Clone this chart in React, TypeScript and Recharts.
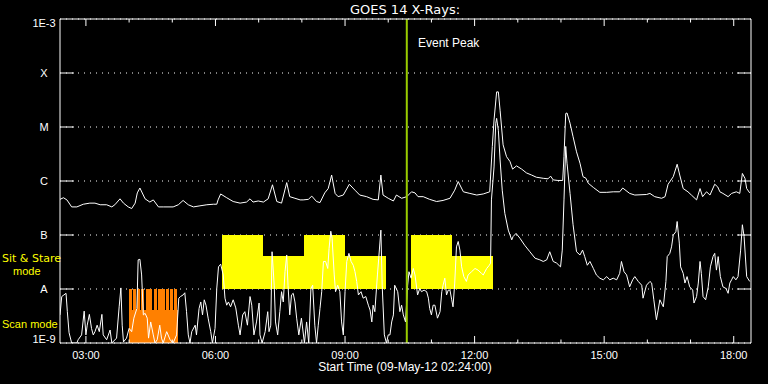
import React from 'react';
import { LineChart, Line, XAxis, YAxis, CartesianGrid, ReferenceArea, ReferenceLine } from 'recharts';

// ---- axis definitions (hours since 00:00 on 09-May-12, log10 flux W/m^2) ----
const timeDomain: [number, number] = [2.4, 18.4];
const fluxDomain: [number, number] = [-9, -3];
const yTickValues = [-9, -8, -7, -6, -5, -4, -3];
const yTickLabels = ['1E-9', 'A', 'B', 'C', 'M', 'X', '1E-3'];
const hourTicks = [3, 4, 5, 6, 7, 8, 9, 10, 11, 12, 13, 14, 15, 16, 17, 18];
const majorHours = [3, 6, 9, 12, 15, 18];
const majorLabels = ['03:00', '06:00', '09:00', '12:00', '15:00', '18:00'];

const eventPeakHour = 10.43;

// ---- instrument mode intervals ----
// Sit & Stare: continuous runs (lower level) with taller sub-intervals
const sitStareRunStart = [6.15, 10.53];
const sitStareRunEnd = [9.96, 12.43];
const sitStareRunTop = -7.38;
const sitStarePeakStart = [6.15, 8.06, 10.53];
const sitStarePeakEnd = [7.09, 9.01, 11.47];
const sitStarePeakTop = -7;
const sitStareBottom = -8;

// Scan mode: solid base block plus individual scans
const scanStripeStart = [4.0, 4.09, 4.19, 4.28, 4.38, 4.47, 4.57, 4.66, 4.75, 4.85, 4.94, 5.04];
const scanStripeEnd = [4.07, 4.16, 4.26, 4.35, 4.45, 4.54, 4.64, 4.73, 4.82, 4.92, 5.01, 5.11];
const scanStripeTop = -8;
const scanBlockStart = 4.0;
const scanBlockEnd = 5.13;
const scanBlockTop = -8.39;

// ---- GOES 14 long channel (1-8 A), [hour, log10 flux] ----
const longChannel: [number, number][] = [
  [2.40,-6.34],[2.48,-6.31],[2.56,-6.35],[2.67,-6.48],[2.79,-6.48],[2.94,-6.43],[3.09,-6.41],[3.21,-6.41],
  [3.33,-6.44],[3.48,-6.44],[3.60,-6.48],[3.67,-6.44],[3.79,-6.33],[3.87,-6.41],[3.98,-6.48],[4.06,-6.51],
  [4.14,-6.41],[4.19,-6.22],[4.25,-6.13],[4.37,-6.33],[4.48,-6.39],[4.56,-6.35],[4.68,-6.48],[4.79,-6.48],
  [5.02,-6.48],[5.14,-6.44],[5.25,-6.36],[5.37,-6.44],[5.49,-6.48],[5.64,-6.46],[5.80,-6.44],[5.95,-6.43],
  [6.03,-6.43],[6.06,-6.35],[6.12,-6.24],[6.26,-6.31],[6.41,-6.38],[6.57,-6.41],[6.72,-6.39],[6.80,-6.33],
  [6.87,-6.39],[6.99,-6.37],[7.11,-6.39],[7.22,-6.33],[7.32,-6.07],[7.42,-6.38],[7.53,-6.41],[7.65,-6.03],
  [7.72,-6.29],[7.84,-6.32],[7.96,-6.35],[8.03,-6.35],[8.15,-6.34],[8.23,-6.28],[8.34,-6.38],[8.42,-6.40],
  [8.53,-6.22],[8.61,-6.14],[8.69,-5.89],[8.77,-6.23],[8.84,-6.29],[8.96,-6.26],[9.10,-6.06],[9.23,-6.17],
  [9.34,-6.26],[9.50,-6.29],[9.65,-6.34],[9.77,-6.35],[9.83,-5.89],[9.88,-6.26],[10.00,-6.32],[10.12,-6.37],
  [10.19,-6.26],[10.31,-6.32],[10.43,-6.29],[10.54,-6.20],[10.62,-6.22],[10.69,-6.29],[10.81,-6.29],[10.96,-6.34],
  [11.12,-6.38],[11.27,-6.36],[11.43,-6.32],[11.54,-6.17],[11.62,-6.01],[11.74,-6.20],[11.89,-6.23],[12.05,-6.26],
  [12.20,-6.24],[12.35,-6.20],[12.41,-5.36],[12.45,-4.87],[12.51,-4.35],[12.55,-4.35],[12.59,-4.69],[12.66,-5.33],
  [12.74,-5.55],[12.82,-5.64],[12.88,-5.78],[12.97,-5.72],[13.09,-5.78],[13.20,-5.85],[13.32,-5.89],[13.43,-5.93],
  [13.59,-5.95],[13.70,-5.96],[13.76,-5.91],[13.82,-5.98],[13.93,-5.99],[14.04,-5.99],[14.07,-5.55],[14.11,-4.75],
  [14.14,-4.74],[14.21,-4.93],[14.28,-5.18],[14.36,-5.46],[14.44,-5.67],[14.51,-5.92],[14.58,-5.95],[14.63,-6.04],
  [14.75,-6.12],[14.90,-6.21],[15.06,-6.21],[15.21,-6.20],[15.36,-6.20],[15.43,-6.13],[15.59,-6.23],[15.71,-6.26],
  [15.98,-6.25],[16.06,-6.23],[16.17,-6.29],[16.33,-6.32],[16.41,-6.29],[16.48,-6.06],[16.60,-5.92],[16.69,-5.69],
  [16.75,-5.89],[16.83,-6.14],[16.94,-6.20],[17.02,-6.26],[17.14,-6.35],[17.22,-6.14],[17.28,-6.29],[17.37,-6.20],
  [17.45,-6.26],[17.56,-6.06],[17.63,-6.11],[17.68,-6.20],[17.75,-6.23],[17.87,-6.29],[17.95,-6.23],[18.06,-6.20],
  [18.14,-6.23],[18.20,-5.86],[18.26,-5.95],[18.30,-6.14],[18.37,-6.22],
];

// ---- GOES 14 short channel (0.5-4 A), [hour, log10 flux] ----
const shortChannel: [number, number][] = [
  [2.40,-8.48],[2.44,-8.14],[2.49,-8.11],[2.54,-8.08],[2.57,-8.42],[2.61,-8.81],[2.67,-9],[2.79,-9],
  [2.82,-8.94],[2.90,-8.85],[2.96,-8.41],[3.00,-8.85],[3.03,-8.67],[3.08,-8.47],[3.13,-8.73],[3.17,-8.85],
  [3.21,-8.79],[3.26,-8.67],[3.31,-8.79],[3.37,-8.47],[3.40,-8.85],[3.48,-8.94],[3.56,-8.76],[3.60,-9],
  [3.71,-8.91],[3.77,-8.33],[3.81,-7.98],[3.84,-8.67],[3.87,-8.98],[3.94,-8.91],[4.00,-8.73],[4.06,-8.79],
  [4.11,-8.54],[4.18,-8.36],[4.21,-7.46],[4.25,-7.45],[4.29,-7.74],[4.33,-8.48],[4.37,-8.45],[4.42,-8.54],
  [4.45,-8.91],[4.50,-8.61],[4.56,-8.85],[4.60,-9],[4.65,-8.94],[4.71,-8.67],[4.75,-8.91],[4.79,-9],
  [4.87,-8.79],[4.95,-8.94],[5.02,-9],[5.10,-8.85],[5.15,-8.17],[5.19,-8.14],[5.25,-8.11],[5.29,-8.07],
  [5.33,-8.42],[5.37,-8.85],[5.41,-9],[5.45,-8.79],[5.53,-8.67],[5.56,-8.85],[5.62,-8.36],[5.66,-8.24],
  [5.70,-8.48],[5.74,-8.20],[5.78,-8.30],[5.83,-8.54],[5.89,-8.79],[5.93,-9],[5.99,-8.73],[6.03,-7.99],
  [6.07,-7.59],[6.12,-7.54],[6.18,-7.74],[6.22,-8.17],[6.26,-8.30],[6.30,-8.24],[6.35,-8.33],[6.41,-8.20],
  [6.47,-8.35],[6.53,-8.67],[6.57,-8.85],[6.63,-8.48],[6.68,-8.42],[6.74,-8.67],[6.80,-8.14],[6.84,-8.30],
  [6.89,-8.85],[6.95,-8.61],[7.01,-8.26],[7.03,-8.85],[7.08,-9],[7.15,-8.79],[7.21,-8.42],[7.24,-8.79],
  [7.28,-8.67],[7.31,-7.31],[7.36,-7.93],[7.39,-8.61],[7.44,-8.85],[7.49,-8.42],[7.53,-8.05],[7.57,-8.24],
  [7.61,-7.68],[7.65,-7.37],[7.68,-7.93],[7.72,-8.48],[7.76,-8.11],[7.80,-8.08],[7.84,-8.24],[7.88,-8.54],
  [7.93,-8.85],[7.99,-8.54],[8.06,-9],[8.11,-8.61],[8.16,-9],[8.21,-7.99],[8.25,-7.93],[8.30,-8.67],
  [8.34,-9],[8.38,-8.67],[8.42,-8.36],[8.46,-8.05],[8.50,-7.49],[8.55,-7.49],[8.60,-7.62],[8.63,-7.25],
  [8.67,-6.93],[8.70,-7.06],[8.75,-7.74],[8.78,-8.05],[8.83,-7.93],[8.88,-8.05],[8.92,-8.61],[8.96,-8.85],
  [9.00,-8.05],[9.04,-7.49],[9.09,-7.34],[9.14,-7.49],[9.19,-7.56],[9.23,-7.68],[9.27,-7.86],[9.31,-8.11],
  [9.37,-8.05],[9.42,-8.17],[9.48,-8.14],[9.54,-8.30],[9.58,-8.39],[9.62,-8.61],[9.65,-8.30],[9.69,-8.42],
  [9.75,-7.74],[9.78,-7.43],[9.83,-6.91],[9.86,-7.93],[9.91,-8.85],[9.96,-9],[10.00,-8.85],[10.04,-8.85],
  [10.08,-8.61],[10.12,-8.48],[10.15,-7.93],[10.22,-8.05],[10.27,-8.42],[10.31,-8.30],[10.35,-8.48],[10.40,-8.61],
  [10.45,-7.93],[10.48,-7.68],[10.53,-7.80],[10.58,-7.62],[10.62,-7.74],[10.68,-8.11],[10.73,-7.99],[10.77,-8.05],
  [10.83,-8.02],[10.89,-8.05],[10.93,-8.17],[10.96,-8.36],[11.00,-8.48],[11.04,-8.30],[11.08,-8.30],[11.14,-8.54],
  [11.20,-8.42],[11.24,-8.05],[11.27,-7.93],[11.31,-7.80],[11.35,-8.11],[11.39,-8.02],[11.43,-8.02],[11.47,-8.20],
  [11.50,-8.33],[11.54,-7.89],[11.58,-7.22],[11.62,-7.12],[11.66,-7.28],[11.70,-7.59],[11.75,-7.77],[11.81,-7.86],
  [11.85,-7.74],[11.93,-7.68],[12.01,-7.62],[12.08,-7.65],[12.16,-7.71],[12.20,-7.74],[12.28,-7.62],[12.34,-7.56],
  [12.37,-7.52],[12.39,-6.35],[12.45,-5.74],[12.49,-4.93],[12.51,-4.84],[12.55,-5.06],[12.59,-5.61],[12.64,-6.17],
  [12.70,-6.60],[12.78,-6.91],[12.86,-7.09],[12.89,-7.03],[12.96,-6.97],[13.05,-7.06],[13.16,-7.19],[13.28,-7.31],
  [13.40,-7.43],[13.51,-7.46],[13.59,-7.49],[13.67,-7.46],[13.74,-7.31],[13.82,-7.49],[13.90,-7.52],[13.99,-7.59],
  [14.03,-7.28],[14.07,-6.35],[14.11,-5.36],[14.14,-5.67],[14.21,-6.23],[14.28,-6.81],[14.36,-7.31],[14.44,-7.37],
  [14.50,-7.28],[14.55,-7.40],[14.61,-7.56],[14.67,-7.49],[14.75,-7.62],[14.82,-7.74],[14.90,-7.80],[14.98,-7.83],
  [15.06,-7.77],[15.13,-7.83],[15.21,-7.80],[15.29,-7.83],[15.36,-7.71],[15.40,-7.49],[15.46,-7.68],[15.52,-7.74],
  [15.59,-7.96],[15.66,-7.83],[15.71,-7.77],[15.79,-7.86],[15.87,-7.93],[15.90,-8.17],[15.98,-7.93],[16.06,-7.86],
  [16.10,-7.89],[16.15,-8.20],[16.21,-8.57],[16.25,-8.39],[16.29,-8.20],[16.37,-8.33],[16.43,-7.86],[16.46,-7.40],
  [16.52,-7.34],[16.56,-7.22],[16.60,-7.00],[16.66,-6.94],[16.69,-6.75],[16.74,-7.15],[16.77,-7.59],[16.83,-7.71],
  [16.87,-7.89],[16.92,-7.77],[16.98,-7.96],[17.05,-8.02],[17.08,-8.26],[17.14,-8.14],[17.18,-7.89],[17.22,-7.49],
  [17.25,-7.71],[17.29,-8.14],[17.35,-8.20],[17.41,-7.96],[17.46,-7.59],[17.52,-7.40],[17.56,-7.34],[17.60,-7.65],
  [17.64,-7.40],[17.69,-7.77],[17.75,-7.96],[17.82,-7.99],[17.87,-8.08],[17.91,-7.89],[17.95,-7.83],[17.99,-7.77],
  [18.05,-7.83],[18.10,-7.77],[18.16,-7.28],[18.20,-6.81],[18.24,-7.03],[18.30,-7.77],[18.37,-7.86],
];

const longData = longChannel.map(([t, v]) => ({ t, v }));
const shortData = shortChannel.map(([t, v]) => ({ t, v }));

const WHITE = '#ffffff';
const YELLOW = '#ffff00';
const ORANGE = '#ff8000';
const EVENT = '#99cc00';
const SANS = '"Liberation Sans", Arial, sans-serif';
const DEJAVU = '"DejaVu Sans", sans-serif';

const LeftTick = (props: any) => {
  const { x, y, payload } = props;
  const v = payload.value;
  const label = yTickLabels[yTickValues.indexOf(v)];
  const edge = v === fluxDomain[0] || v === fluxDomain[1];
  const dy = v === fluxDomain[1] ? 7.7 : v === fluxDomain[0] ? 0.3 : 4.2;
  return (
    <g>
      {!edge && <line x1={x} x2={x + 14} y1={y} y2={y} stroke={WHITE} strokeWidth={1} />}
      <text x={x - 16} y={y + dy} textAnchor="middle" fill={WHITE} fontSize={11} fontFamily={SANS}>
        {label}
      </text>
    </g>
  );
};

const RightTick = (props: any) => {
  const { x, y, payload } = props;
  const v = payload.value;
  const edge = v === fluxDomain[0] || v === fluxDomain[1];
  if (edge) return <g />;
  return <line x1={x - 14} x2={x} y1={y} y2={y} stroke={WHITE} strokeWidth={1} />;
};

const BottomTick = (props: any) => {
  const { x, y, payload } = props;
  const mi = majorHours.indexOf(payload.value);
  const len = mi >= 0 ? 7 : 3.5;
  return (
    <g>
      <line x1={x} x2={x} y1={y} y2={y - len} stroke={WHITE} strokeWidth={1} />
      {mi >= 0 && (
        <text x={x} y={y + 16} textAnchor="middle" fill={WHITE} fontSize={11} fontFamily={SANS}>
          {majorLabels[mi]}
        </text>
      )}
    </g>
  );
};

const TopTick = (props: any) => {
  const { x, y, payload } = props;
  const len = majorHours.indexOf(payload.value) >= 0 ? 7 : 3.5;
  return <line x1={x} x2={x} y1={y} y2={y + len} stroke={WHITE} strokeWidth={1} />;
};

export default function App() {
  return (
    <div style={{ position: 'absolute', left: 0, top: 0, width: 768, height: 384, background: '#000' }}>
      <LineChart width={768} height={384} margin={{ top: 0, right: 0, bottom: 0, left: 0 }}>
        <XAxis
          xAxisId="b"
          type="number"
          dataKey="t"
          domain={timeDomain}
          allowDataOverflow
          ticks={hourTicks}
          interval={0}
          height={41}
          tickSize={0}
          tickMargin={0}
          tickLine={false}
          axisLine={{ stroke: WHITE }}
          tick={<BottomTick />}
        />
        <XAxis
          xAxisId="t"
          orientation="top"
          type="number"
          dataKey="t"
          domain={timeDomain}
          allowDataOverflow
          ticks={hourTicks}
          interval={0}
          height={19}
          tickSize={0}
          tickMargin={0}
          tickLine={false}
          axisLine={{ stroke: WHITE }}
          tick={<TopTick />}
        />
        <YAxis
          yAxisId="l"
          type="number"
          domain={fluxDomain}
          allowDataOverflow
          ticks={yTickValues}
          interval={0}
          width={60}
          tickSize={0}
          tickMargin={0}
          tickLine={false}
          axisLine={{ stroke: WHITE }}
          tick={<LeftTick />}
        />
        <YAxis
          yAxisId="r"
          orientation="right"
          type="number"
          domain={fluxDomain}
          allowDataOverflow
          ticks={yTickValues}
          interval={0}
          width={17}
          tickSize={0}
          tickMargin={0}
          tickLine={false}
          axisLine={{ stroke: WHITE }}
          tick={<RightTick />}
        />
        <CartesianGrid
          xAxisId="b"
          yAxisId="l"
          vertical={false}
          stroke={WHITE}
          strokeDasharray="1 5"
        />
        {sitStareRunStart.map((s, i) => (
          <ReferenceArea
            key={`ssr${i}`}
            xAxisId="b"
            yAxisId="l"
            x1={s}
            x2={sitStareRunEnd[i]}
            y1={sitStareBottom}
            y2={sitStareRunTop}
            fill={YELLOW}
            fillOpacity={1}
            stroke="none"
            shapeRendering="crispEdges"
          />
        ))}
        {sitStarePeakStart.map((s, i) => (
          <ReferenceArea
            key={`ssp${i}`}
            xAxisId="b"
            yAxisId="l"
            x1={s}
            x2={sitStarePeakEnd[i]}
            y1={sitStareBottom}
            y2={sitStarePeakTop}
            fill={YELLOW}
            fillOpacity={1}
            stroke="none"
            shapeRendering="crispEdges"
          />
        ))}
        <ReferenceArea
          xAxisId="b"
          yAxisId="l"
          x1={scanBlockStart}
          x2={scanBlockEnd}
          y1={fluxDomain[0]}
          y2={scanBlockTop}
          fill={ORANGE}
          fillOpacity={1}
          stroke="none"
          shapeRendering="crispEdges"
        />
        {scanStripeStart.map((s, i) => (
          <ReferenceArea
            key={`sc${i}`}
            xAxisId="b"
            yAxisId="l"
            x1={s}
            x2={scanStripeEnd[i]}
            y1={fluxDomain[0]}
            y2={scanStripeTop}
            fill={ORANGE}
            fillOpacity={1}
            stroke="none"
            shapeRendering="crispEdges"
          />
        ))}
        <Line
          xAxisId="b"
          yAxisId="l"
          data={longData}
          dataKey="v"
          type="linear"
          stroke={WHITE}
          strokeWidth={1}
          dot={false}
          activeDot={false}
          isAnimationActive={false}
        />
        <Line
          xAxisId="b"
          yAxisId="l"
          data={shortData}
          dataKey="v"
          type="linear"
          stroke={WHITE}
          strokeWidth={1}
          dot={false}
          activeDot={false}
          isAnimationActive={false}
        />
        <ReferenceLine xAxisId="b" yAxisId="l" x={eventPeakHour} stroke={EVENT} strokeWidth={2} />
      </LineChart>
      <svg
        width={768}
        height={384}
        style={{ position: 'absolute', left: 0, top: 0, pointerEvents: 'none' }}
      >
        <text x={405} y={14} textAnchor="middle" fill={WHITE} fontSize={13} fontFamily={DEJAVU}>
          GOES 14 X-Rays:
        </text>
        <text x={418} y={47} fill={WHITE} fontSize={12} fontFamily={SANS}>
          Event Peak
        </text>
        <text x={2} y={262} fill={YELLOW} fontSize={11} fontFamily={DEJAVU}>
          Sit &amp; Stare
        </text>
        <text x={13} y={275} fill={YELLOW} fontSize={11} fontFamily={SANS}>
          mode
        </text>
        <text x={2} y={328} fill={YELLOW} fontSize={11} fontFamily={SANS}>
          Scan mode
        </text>
        <text x={405} y={371} textAnchor="middle" fill={WHITE} fontSize={12} fontFamily={SANS}>
          Start Time (09-May-12 02:24:00)
        </text>
      </svg>
    </div>
  );
}
